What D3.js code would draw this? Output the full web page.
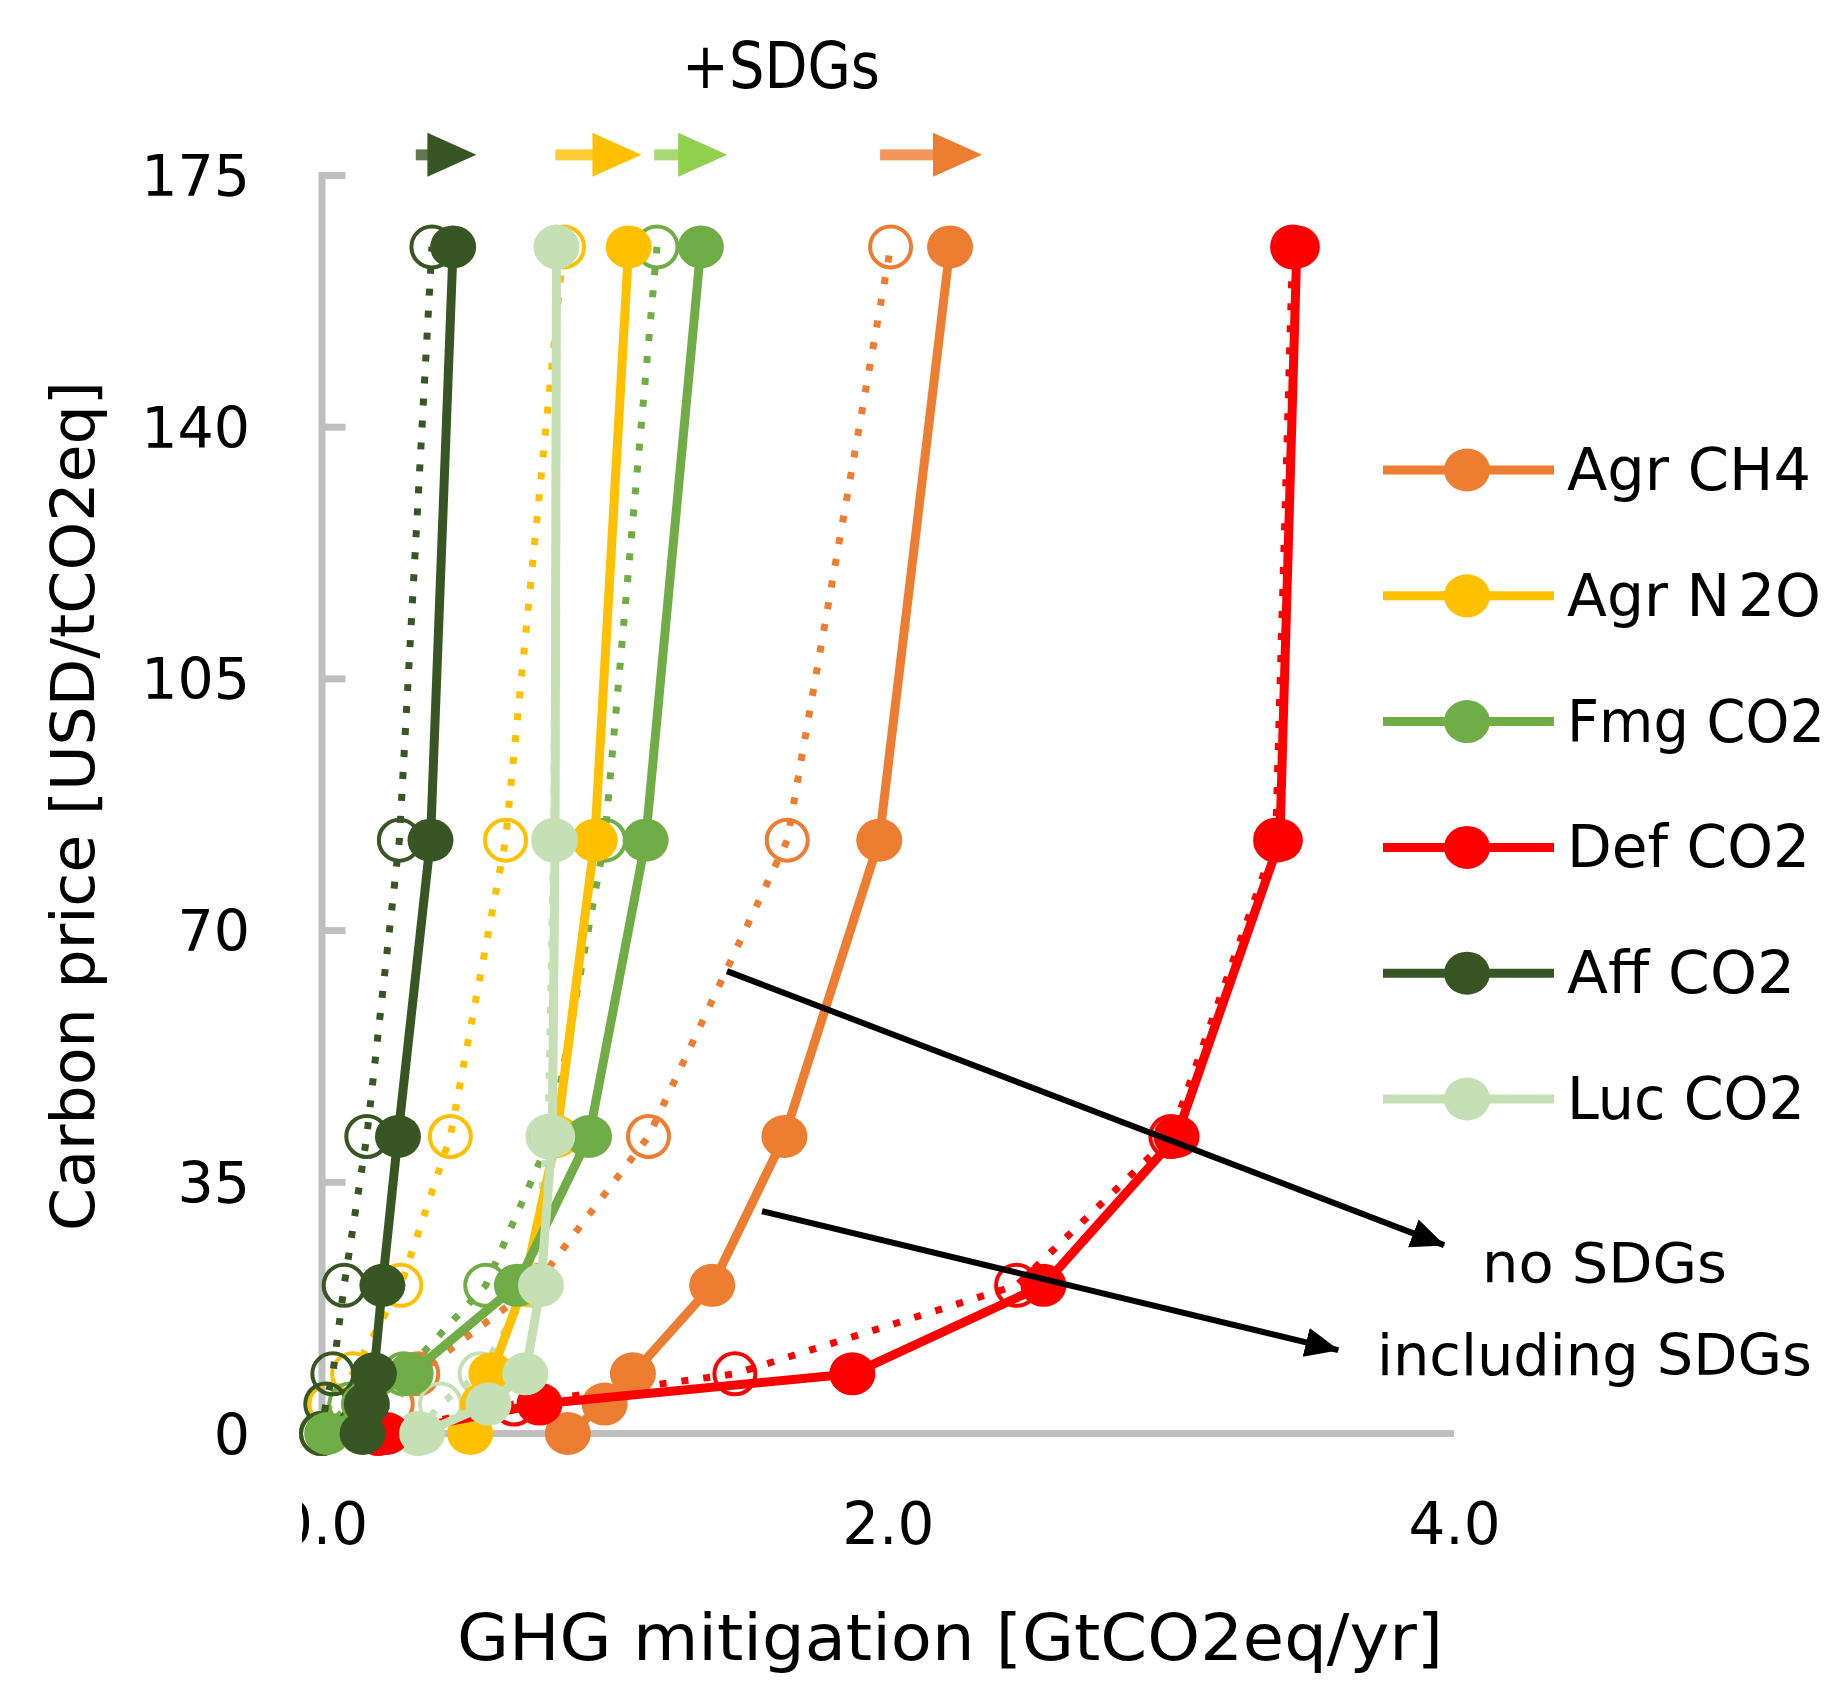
<!DOCTYPE html>
<html>
<head>
<meta charset="utf-8">
<script src="https://cdn.jsdelivr.net/npm/d3@7/dist/d3.min.js"></script>
<style>
  html, body { margin: 0; padding: 0; background: #ffffff; }
  svg { display: block; }
  text { font-family: "DejaVu Sans", Verdana, sans-serif; fill: #000; }
</style>
</head>
<body>
<svg id="chart" width="1839" height="1682"></svg>
<script>
// ---------------- DATA ----------------
// Carbon price levels [USD/tCO2eq] (y values shared by every series)
const carbonPrices = [0, 4.1, 8.3, 20.6, 41.3, 82.5, 165];

const seriesNames = ["Agr CH4", "Agr N2O", "Fmg CO2", "Def CO2", "Aff CO2", "Luc CO2"];

// GHG mitigation [GtCO2eq/yr] including SDGs (solid lines, filled markers)
const inclAgrCH4 = [0.87, 1.00, 1.10, 1.38, 1.635, 1.97, 2.22];
const inclAgrN2O = [0.525, 0.57, 0.60, 0.715, 0.83, 0.965, 1.085];
const inclFmgCO2 = [0.02, 0.15, 0.315, 0.69, 0.945, 1.145, 1.34];
const inclDefCO2 = [0.23, 0.77, 1.875, 2.55, 3.02, 3.385, 3.445];
const inclAffCO2 = [0.145, 0.16, 0.185, 0.215, 0.27, 0.385, 0.465];
const inclLucCO2 = [0.355, 0.59, 0.72, 0.775, 0.815, 0.825, 0.83];

// GHG mitigation [GtCO2eq/yr] with no SDGs (dotted lines, open markers)
const noAgrCH4 = [0.0, 0.25, 0.34, 0.755, 1.155, 1.645, 2.01];
const noAgrN2O = [0.0, 0.03, 0.11, 0.28, 0.455, 0.65, 0.855];
const noFmgCO2 = [0.0, 0.10, 0.29, 0.58, 0.81, 1.0, 1.185];
const noDefCO2 = [0.2, 0.68, 1.46, 2.455, 3.0, 3.37, 3.43];
const noAffCO2 = [0.0, 0.015, 0.04, 0.08, 0.16, 0.275, 0.39];
const noLucCO2 = [0.34, 0.42, 0.56, 0.74, 0.80, 0.82, 0.83];

const yTickValues = [0, 35, 70, 105, 140, 175];
const xTickValues = [0, 2, 4];

// "+SDGs" shift arrows (x from -> to, at price level above the plot)
const sdgArrowFrom = [0.333, 0.826, 1.175, 1.973];
const sdgArrowTo   = [0.547, 1.130, 1.433, 2.333];
const sdgArrowLevel = 177.8;

// Annotation callouts: [x0, y0, x1, y1] in data units
const calloutNoSDG   = [1.432, 64.3, 3.965, 26.2];
const calloutInclSDG = [1.556, 30.9, 3.591, 11.6];

// ---------------- STYLE ----------------
const seriesColors = ["#ED7D31", "#FFC000", "#70AD47", "#FF0000", "#375623", "#C5E0B4"];
const arrowColors = ["#375623", "#FFC000", "#92D050", "#ED7D31"];
const axisGray = "#BFBFBF";
const legendTextWidths = [244, 254, 258, 243, 228, 238];

const inclData = [inclAgrCH4, inclAgrN2O, inclFmgCO2, inclDefCO2, inclAffCO2, inclLucCO2];
const noData = [noAgrCH4, noAgrN2O, noFmgCO2, noDefCO2, noAffCO2, noLucCO2];

const svg = d3.select("#chart");
const defs = svg.append("defs");

const x = d3.scaleLinear().domain([0, 4]).range([321.5, 1454]);
const y = d3.scaleLinear().domain([0, 175]).range([1433.5, 175]);

// ---------------- AXES ----------------
// Y axis line + inner ticks
const yAxisG = svg.append("g").attr("transform", `translate(${x(0)},0)`)
  .call(d3.axisRight(y).tickValues(yTickValues).tickSize(24).tickSizeOuter(0).tickFormat(""));
yAxisG.select(".domain").attr("stroke", axisGray).attr("stroke-width", 7).attr("stroke-linecap", "square");
yAxisG.selectAll(".tick line").attr("stroke", axisGray).attr("stroke-width", 7);

// Y tick labels
const yLabG = svg.append("g").attr("transform", `translate(${x(0)},0)`)
  .call(d3.axisLeft(y).tickValues(yTickValues).tickSize(0).tickPadding(71.5).tickFormat(d3.format("d")));
yLabG.select(".domain").remove();
yLabG.selectAll("text").attr("font-family", "DejaVu Sans").attr("font-size", 57).attr("dy", "0.36em").attr("fill", "#000");

// X axis (labels clipped on the left like the reference)
defs.append("clipPath").attr("id", "xlabclip")
  .append("rect").attr("x", 302).attr("y", 1440).attr("width", 1500).attr("height", 150);

const xWrap = svg.append("g").attr("clip-path", "url(#xlabclip)");
const xAxisG = xWrap.append("g").attr("transform", `translate(0,${y(0)})`)
  .call(d3.axisBottom(x).tickValues(xTickValues).tickSize(0).tickSizeOuter(0).tickFormat(d3.format(".1f")));
xAxisG.select(".domain").remove();
xAxisG.selectAll("text").attr("font-family", "DejaVu Sans").attr("font-size", 58)
  .attr("y", 110).attr("dy", null).attr("fill", "#000");
svg.append("line").attr("x1", x(0)).attr("x2", x(4)).attr("y1", y(0)).attr("y2", y(0))
  .attr("stroke", axisGray).attr("stroke-width", 7);

// Axis titles
svg.append("text")
  .attr("transform", `translate(94,806) rotate(-90)`)
  .attr("text-anchor", "middle")
  .attr("font-size", 61)
  .attr("textLength", 850).attr("lengthAdjust", "spacingAndGlyphs")
  .text("Carbon price [USD/tCO2eq]");

svg.append("text")
  .attr("x", 950).attr("y", 1660)
  .attr("text-anchor", "middle")
  .attr("font-size", 64)
  .attr("textLength", 986).attr("lengthAdjust", "spacingAndGlyphs")
  .text("GHG mitigation [GtCO2eq/yr]");

// ---------------- SERIES ----------------
const lineGen = d3.line().x(d => x(d[0])).y(d => y(d[1]));
const plot = svg.append("g");

// No SDGs: dotted lines + open markers (drawn first)
noData.forEach((vals, i) => {
  const pts = vals.map((v, k) => [v, carbonPrices[k]]);
  const g = plot.append("g").attr("class", "no-sdg");
  g.append("path").datum(pts).attr("d", lineGen)
    .attr("fill", "none").attr("stroke", seriesColors[i])
    .attr("stroke-width", 7).attr("stroke-dasharray", "7 15");
  g.selectAll("circle").data(pts).join("circle")
    .attr("cx", d => x(d[0])).attr("cy", d => y(d[1])).attr("r", 20.5)
    .attr("fill", "none").attr("stroke", seriesColors[i]).attr("stroke-width", 4);
});

// Including SDGs: solid lines + filled markers
inclData.forEach((vals, i) => {
  const pts = vals.map((v, k) => [v, carbonPrices[k]]);
  const g = plot.append("g").attr("class", "incl-sdg");
  g.append("path").datum(pts).attr("d", lineGen)
    .attr("fill", "none").attr("stroke", seriesColors[i])
    .attr("stroke-width", 9).attr("stroke-linejoin", "round");
  g.selectAll("ellipse").data(pts).join("ellipse")
    .attr("cx", d => x(d[0])).attr("cy", d => y(d[1])).attr("rx", 23).attr("ry", 21.5)
    .attr("fill", seriesColors[i]);
});

// ---------------- "+SDGs" ARROWS ----------------
const headLen = 49, headHalf = 22, shaftHalf = 5.5;
sdgArrowFrom.forEach((x0v, i) => {
  const x0 = x(x0v), x1 = x(sdgArrowTo[i]), yy = y(sdgArrowLevel);
  const hs = x1 - headLen;
  const g = svg.append("g");
  if (hs > x0) {
    g.append("rect").attr("x", x0).attr("y", yy - shaftHalf).attr("width", hs - x0 + 1).attr("height", shaftHalf * 2)
      .attr("fill", arrowColors[i]).attr("opacity", 0.8);
  }
  g.append("path").attr("d", `M${hs},${yy - headHalf}L${x1},${yy}L${hs},${yy + headHalf}Z`)
    .attr("fill", arrowColors[i]);
});

svg.append("text").attr("x", 682).attr("y", 88).attr("font-size", 64)
  .attr("textLength", 198).attr("lengthAdjust", "spacingAndGlyphs").text("+SDGs");

// ---------------- CALLOUTS ----------------
defs.append("marker").attr("id", "blackhead")
  .attr("markerUnits", "userSpaceOnUse").attr("markerWidth", 34).attr("markerHeight", 34)
  .attr("viewBox", "0 -15 32 30").attr("refX", 31).attr("refY", 0).attr("orient", "auto")
  .append("path").attr("d", "M0,-14L32,0L0,14Z").attr("fill", "#000");

[calloutNoSDG, calloutInclSDG].forEach(c => {
  svg.append("line")
    .attr("x1", x(c[0])).attr("y1", y(c[1])).attr("x2", x(c[2])).attr("y2", y(c[3]))
    .attr("stroke", "#000").attr("stroke-width", 6).attr("marker-end", "url(#blackhead)");
});

svg.append("text").attr("x", 1482).attr("y", 1282).attr("font-size", 56)
  .attr("textLength", 245).attr("lengthAdjust", "spacingAndGlyphs").text("no SDGs");
svg.append("text").attr("x", 1377).attr("y", 1375).attr("font-size", 57)
  .attr("textLength", 435).attr("lengthAdjust", "spacingAndGlyphs").text("including SDGs");

// ---------------- LEGEND ----------------
const legendRowY = d3.range(seriesNames.length).map(i => 470 + i * 125.8);
const leg = svg.append("g");
seriesNames.forEach((name, i) => {
  const ly = legendRowY[i];
  leg.append("line").attr("x1", 1383).attr("x2", 1554).attr("y1", ly).attr("y2", ly)
    .attr("stroke", seriesColors[i]).attr("stroke-width", 9);
  leg.append("ellipse").attr("cx", 1467).attr("cy", ly).attr("rx", 23).attr("ry", 21.5)
    .attr("fill", seriesColors[i]);
  const t = leg.append("text").attr("x", 1567).attr("y", ly + 20).attr("font-size", 59)
    .attr("textLength", legendTextWidths[i]).attr("lengthAdjust", "spacingAndGlyphs");
  if (name === "Agr N2O") {
    t.append("tspan").text("Agr N");
    t.append("tspan").attr("dx", 8).text("2O");
  } else {
    t.text(name);
  }
});
</script>
</body>
</html>
